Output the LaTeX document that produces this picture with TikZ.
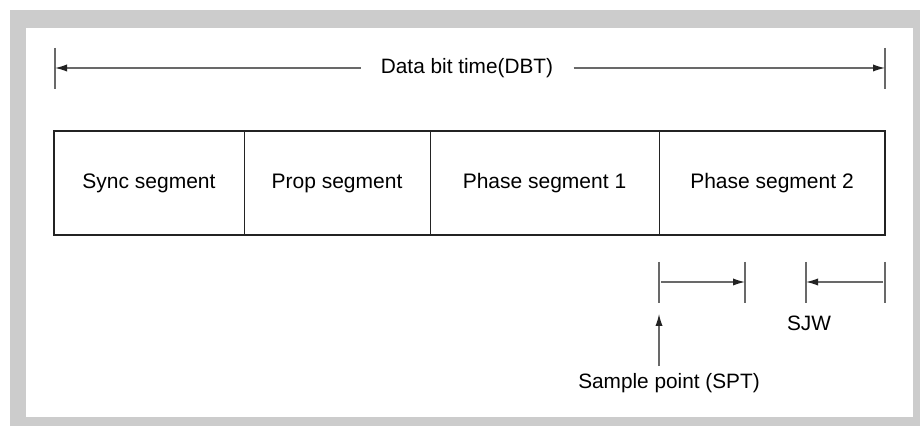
\documentclass[tikz,border=0pt]{standalone}
\usepackage{fontspec}
\setmainfont{Liberation Sans}
\usepackage{tikz}
\usetikzlibrary{arrows.meta, positioning}
\definecolor{mygray}{RGB}{204,204,204}
\definecolor{mydim}{RGB}{105,105,105}
\definecolor{mydark}{RGB}{35,35,35}
\tikzset{
  seg/.style={rectangle, draw=mydark, line width=0.5pt, minimum height=52pt,
    inner sep=0pt, outer sep=0pt, text height=7.6pt, text depth=2.2pt,
    font=\fontsize{10.5}{12}\selectfont},
  lbl/.style={font=\fontsize{10.4}{12}\selectfont, text=black},
  tickline/.style={mydim, line width=0.6pt},
  dimarrow/.style={-{Latex[length=6pt,width=3.6pt,color=mydark]}, mydim, line width=0.6pt},
  boxframe/.style={draw=mydark, line width=1.2pt}
}

\begin{document}
\begin{tikzpicture}[x=0.5pt, y=-0.5pt]
  \useasboundingbox (0,0) rectangle (920,426);
  % Frame
  \fill[mygray] (10,10) rectangle (920,426);
  \fill[white] (26,28) rectangle (913,417);

  % Bit time
  \node[lbl, inner xsep=10pt] (dbt) at (467,68) {Data bit time(DBT)};
  \coordinate (dbtL) at (55,68);
  \coordinate (dbtR) at (885,68);
  \draw[tickline] (55,48) -- (55,89);
  \draw[tickline] (885,48) -- (885,89);
  \draw[dimarrow] (dbt) -- (dbtL);
  \draw[dimarrow] (dbt) -- (dbtR);

  % Segments
  \node[seg, minimum width=95pt, anchor=west] (sync) at (54,183) {Sync segment};
  \node[seg, minimum width=93pt, right=0pt of sync] (prop) {Prop segment};
  \node[seg, minimum width=114.5pt, right=0pt of prop] (phaseA) {Phase segment 1};
  \node[seg, minimum width=113pt, right=0pt of phaseA] (phaseB) {Phase segment 2};
  \draw[boxframe] (sync.north west) rectangle (phaseB.south east);

  % Sample point and SJW
  \coordinate (spt) at (659,282);
  \coordinate (sptEnd) at (745,282);
  \coordinate (sjwL) at (806,282);
  \coordinate (sjwR) at (885,282);
  \draw[tickline] (659,262) -- (659,303);
  \draw[tickline] (745,262) -- (745,303);
  \draw[tickline] (806,262) -- (806,303);
  \draw[tickline] (885,262) -- (885,303);
  \draw[dimarrow] ([xshift=1pt]spt) -- (sptEnd);
  \draw[dimarrow] ([xshift=-1pt]sjwR) -- (sjwL);
  \node[lbl] (sjw) at (809,323) {SJW};

  \coordinate (sptTip) at (659,314);
  \node[lbl] (sptlbl) at (669,383) {Sample point (SPT)};
  \draw[dimarrow] (sptlbl.north -| sptTip) -- (sptTip);
\end{tikzpicture}
\end{document}
